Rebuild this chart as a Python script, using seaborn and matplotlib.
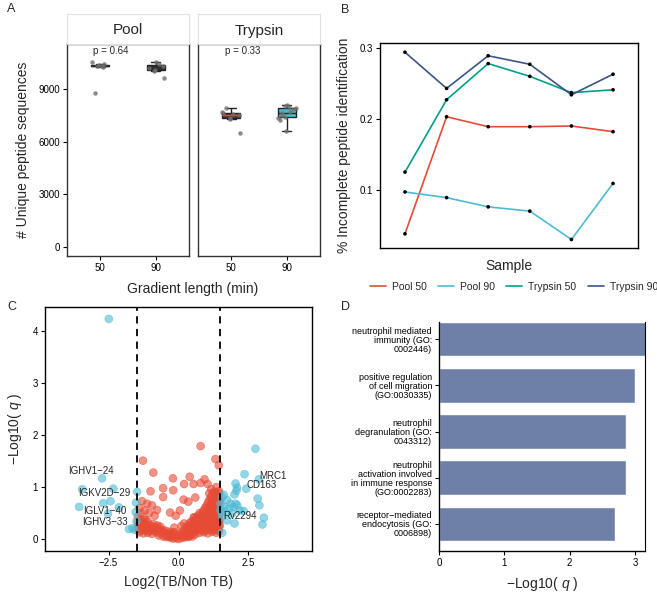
import numpy as np
import pandas as pd
import matplotlib
matplotlib.use("Agg")
import matplotlib.pyplot as plt
import seaborn as sns
from matplotlib.lines import Line2D

# -----------------------------
# DATA
# -----------------------------

# A: unique peptide sequences per run
gradients = ["50", "90"]
pool_50 = [10550, 10400, 10350, 10320, 10300, 10270, 8750]
pool_90 = [10550, 10430, 10300, 10200, 10100, 10050, 9620]
trypsin_50 = [7895, 7660, 7600, 7570, 7500, 7350, 7290, 6500]
trypsin_90 = [8080, 8030, 7950, 7915, 7880, 7700, 7600, 7500, 7400, 7330, 7230, 6620]
p_labels = ["p = 0.64", "p = 0.33"]

# B: % incomplete peptide identification
samples = [1, 2, 3, 4, 5, 6]
b_pool_50 = [0.038, 0.203, 0.189, 0.189, 0.190, 0.182]
b_pool_90 = [0.097, 0.089, 0.076, 0.070, 0.030, 0.109]
b_trypsin_50 = [0.125, 0.227, 0.278, 0.260, 0.237, 0.241]
b_trypsin_90 = [0.294, 0.243, 0.289, 0.277, 0.234, 0.263]
b_groups = ["Pool 50", "Pool 90", "Trypsin 50", "Trypsin 90"]

# C: volcano plot (log2 fold change, -log10 q)
red_pts = [
    (0.79, 1.79), (-1.27, 1.51), (1.32, 1.54), (1.44, 1.42), (-0.90, 1.28),
    (-0.20, 1.17), (0.40, 1.20), (0.93, 1.15), (0.20, 1.06), (0.54, 1.06),
    (0.79, 1.08), (1.04, 1.06), (1.17, 0.96), (-1.00, 0.92), (-0.55, 0.98),
    (-0.55, 0.81), (-0.19, 0.94), (0.18, 0.76), (-1.30, 0.73), (-1.12, 0.68),
    (-0.95, 0.65), (-0.77, 0.56), (-0.30, 0.51), (-1.18, 0.37), (-1.40, 0.60),
    (-1.35, 0.50), (-1.20, 0.55), (-1.05, 0.50), (-0.85, 0.45), (1.10, 0.88),
    (1.25, 0.90), (1.35, 1.00), (1.45, 0.92), (0.60, 0.80), (0.35, 0.72),
    (0.05, 0.55), (-0.10, 0.45),
    # dense cluster
    (-0.30, 0.03), (-0.20, 0.01), (-0.10, 0.02), (0.00, 0.00), (0.10, 0.02),
    (0.20, 0.03), (0.30, 0.05), (-0.45, 0.04), (-0.35, 0.05), (0.35, 0.04),
    (0.40, 0.06), (0.50, 0.05),
    (-0.70, 0.07), (-0.55, 0.05), (-0.40, 0.06), (-0.25, 0.08), (-0.10, 0.05),
    (0.05, 0.07), (0.15, 0.06), (0.30, 0.10), (0.45, 0.08), (0.60, 0.09),
    (-1.40, 0.13), (-1.25, 0.11), (-1.10, 0.12), (-0.95, 0.10), (-0.80, 0.13),
    (-0.65, 0.11), (-0.50, 0.12), (-0.35, 0.10), (0.30, 0.14), (0.45, 0.12),
    (0.60, 0.15), (0.75, 0.12), (0.90, 0.13), (1.05, 0.11), (1.20, 0.14),
    (1.35, 0.12), (1.45, 0.15),
    (-1.35, 0.16), (-1.20, 0.17), (-1.05, 0.15), (-0.90, 0.16), (-0.75, 0.17),
    (-0.60, 0.15), (-0.45, 0.16), (-0.30, 0.14), (-0.15, 0.13), (0.20, 0.16),
    (0.35, 0.17), (0.50, 0.16), (0.65, 0.18), (0.80, 0.17), (0.95, 0.16),
    (1.10, 0.18), (1.25, 0.17), (1.40, 0.18),
    (-1.45, 0.20), (-1.30, 0.22), (-1.15, 0.19), (-1.00, 0.21), (-0.85, 0.18),
    (-0.70, 0.20), (-0.55, 0.17), (0.40, 0.20), (0.55, 0.22), (0.70, 0.19),
    (0.85, 0.21), (1.00, 0.20), (1.15, 0.23), (1.30, 0.20), (1.45, 0.22),
    (-1.45, 0.25), (-1.30, 0.26), (-1.15, 0.24), (-0.95, 0.25), (-0.80, 0.23),
    (-0.65, 0.24), (0.30, 0.24), (0.45, 0.25), (0.60, 0.24), (0.75, 0.26),
    (0.90, 0.25), (1.05, 0.24), (1.20, 0.26), (1.35, 0.25), (1.48, 0.27),
    (-1.40, 0.28), (-1.20, 0.30), (-1.05, 0.27), (-0.90, 0.29), (-0.75, 0.26),
    (0.50, 0.28), (0.65, 0.30), (0.80, 0.27), (0.95, 0.29), (1.10, 0.30),
    (1.25, 0.28), (1.40, 0.31),
    (-1.45, 0.33), (-1.30, 0.32), (-1.10, 0.34), (0.40, 0.31), (0.55, 0.33),
    (0.70, 0.32), (0.85, 0.33), (1.00, 0.32), (1.15, 0.34), (1.30, 0.33),
    (1.45, 0.34),
    (-1.35, 0.36), (-1.25, 0.38), (0.60, 0.36), (0.75, 0.37), (0.90, 0.35),
    (1.05, 0.38), (1.20, 0.36), (1.35, 0.39), (1.45, 0.37),
    (0.55, 0.41), (0.65, 0.40), (0.80, 0.42), (0.95, 0.41), (1.10, 0.42),
    (1.25, 0.41), (1.40, 0.43),
    (-1.45, 0.44), (0.70, 0.45), (0.85, 0.46), (1.00, 0.44), (1.15, 0.47),
    (1.30, 0.45), (1.45, 0.46),
    (0.75, 0.50), (0.85, 0.51), (1.00, 0.50), (1.10, 0.52), (1.25, 0.50),
    (1.40, 0.51),
    (0.90, 0.55), (1.05, 0.54), (1.20, 0.56), (1.35, 0.55), (1.45, 0.57),
    (0.95, 0.60), (1.10, 0.61), (1.25, 0.60), (1.40, 0.62),
    (1.00, 0.64), (1.15, 0.66), (1.30, 0.65), (1.42, 0.67),
    (1.05, 0.70), (1.20, 0.71), (1.35, 0.70), (1.48, 0.72),
    (1.10, 0.75), (1.25, 0.74), (1.40, 0.76),
    (1.15, 0.80), (1.30, 0.81), (1.45, 0.80),
    (1.20, 0.84), (1.35, 0.86), (1.30, 0.91), (1.45, 0.88),
    (0.15, 0.15), (0.25, 0.20), (0.35, 0.25), (0.00, 0.10), (-0.20, 0.12),
    (0.10, 0.25), (0.20, 0.30), (-0.15, 0.22), (0.45, 0.33), (0.55, 0.42),
]
cyan_pts = [
    (-2.49, 4.24), (-2.73, 1.17), (-3.44, 0.96), (-2.33, 0.97), (-2.43, 0.73),
    (-2.69, 0.69), (-3.55, 0.62), (-2.13, 0.61), (-2.52, 0.49), (-1.52, 0.70),
    (-1.48, 0.91), (-1.65, 0.21), (-1.58, 0.18), (-1.77, 0.19), (-1.50, 0.35),
    (-1.53, 0.52),
    (2.75, 1.74), (2.36, 1.25), (2.87, 1.15), (2.42, 0.97), (2.04, 1.07),
    (2.09, 0.99), (2.07, 0.93), (2.00, 0.86), (2.83, 0.78), (2.89, 0.65),
    (3.05, 0.41), (3.00, 0.28), (2.10, 0.65), (2.20, 0.55), (2.33, 0.54),
    (2.00, 0.30), (1.56, 0.12),
    (1.56, 0.81), (1.74, 0.75), (1.86, 0.68), (1.62, 0.62), (1.50, 0.56),
    (1.68, 0.53), (1.80, 0.59), (1.98, 0.62), (1.56, 0.43), (1.74, 0.36),
    (1.50, 0.68), (1.92, 0.50), (1.62, 0.85), (2.04, 0.68), (1.55, 0.50),
]
gene_labels = ["IGHV1\u221224", "IGKV2D\u221229", "IGLV1\u221240", "IGHV3\u221233",
               "MRC1", "CD163", "Rv2294"]
gene_x = [-2.31, -1.71, -1.86, -1.80, 2.90, 2.43, 1.60]
gene_y = [1.31, 0.88, 0.54, 0.32, 1.22, 1.04, 0.44]

# D: GO enrichment
go_terms = [
    "neutrophil mediated\nimmunity (GO:\n0002446)",
    "positive regulation\nof cell migration\n(GO:0030335)",
    "neutrophil\ndegranulation (GO:\n0043312)",
    "neutrophil\nactivation involved\nin immune response\n(GO:0002283)",
    "receptor\u2212mediated\nendocytosis (GO:\n0006898)",
]
go_values = [3.25, 3.00, 2.86, 2.86, 2.70]

# -----------------------------
# STYLE
# -----------------------------

sns.set_theme(style="ticks")
plt.rcParams["font.family"] = ["Liberation Sans", "DejaVu Sans"]
plt.rcParams["mathtext.fontset"] = "custom"
plt.rcParams["mathtext.it"] = "Liberation Sans:italic"
plt.rcParams["mathtext.rm"] = "Liberation Sans"

RED = "#E64B35"
CYAN = "#4DBBD5"
GREEN = "#00A087"
NAVY = "#3C5488"
TICK = 7
LAB = 10

fig = plt.figure(figsize=(6.57, 5.94), dpi=100)


def style_axes(ax, spines=("left", "right", "top", "bottom"), color="black", lw=1.0):
    for s in ["left", "right", "top", "bottom"]:
        ax.spines[s].set_visible(s in spines)
        ax.spines[s].set_color(color)
        ax.spines[s].set_linewidth(lw)
    ax.tick_params(direction="out", length=3, width=0.8, labelsize=TICK,
                   colors="black", pad=2)
    ax.set_facecolor("white")


# -----------------------------
# PANEL A
# -----------------------------

df_a = pd.DataFrame({
    "facet": ["Pool"] * (len(pool_50) + len(pool_90))
             + ["Trypsin"] * (len(trypsin_50) + len(trypsin_90)),
    "gradient": ["50"] * len(pool_50) + ["90"] * len(pool_90)
                + ["50"] * len(trypsin_50) + ["90"] * len(trypsin_90),
    "peptides": pool_50 + pool_90 + trypsin_50 + trypsin_90,
})

box_fill = {("Pool", "50"): "#2E2E2E", ("Pool", "90"): "#2E2E2E",
            ("Trypsin", "50"): "#3A3A3A", ("Trypsin", "90"): CYAN}
median_col = {("Pool", "50"): "#2E2E2E", ("Pool", "90"): "#2E2E2E",
              ("Trypsin", "50"): RED, ("Trypsin", "90"): "#222222"}

facets = ["Pool", "Trypsin"]
a_left = [67, 198]
for i, facet in enumerate(facets):
    ax = fig.add_axes([a_left[i] / 657, 1 - 256 / 594, 122 / 657, 212 / 594])
    for g in gradients:
        sub = df_a[(df_a.facet == facet) & (df_a.gradient == g)]
        sns.boxplot(data=sub, x="gradient", y="peptides", order=gradients,
                    color=box_fill[(facet, g)], linecolor="#222222",
                    linewidth=1.0, width=0.33, showfliers=False,
                    whis=3 if (facet, g) == ("Trypsin", "90") else 1.5,
                    medianprops=dict(color=median_col[(facet, g)], linewidth=1.0),
                    saturation=1, ax=ax)
    sub = df_a[df_a.facet == facet]
    sns.stripplot(data=sub, x="gradient", y="peptides", order=gradients,
                  color="#6E6E6E", alpha=0.8, size=3.2, jitter=0.17, ax=ax)
    ax.set_xlim(-0.6, 1.6)
    ax.set_ylim(-520, 11560)
    ax.set_yticks([0, 3000, 6000, 9000])
    ax.set_xlabel("")
    style_axes(ax, color="#333333")
    ax.text(-0.13 if i == 0 else -0.11, 11170, p_labels[i], fontsize=7,
            ha="left", va="center")
    if i == 0:
        ax.set_ylabel("# Unique peptide sequences", fontsize=LAB, labelpad=6)
    else:
        ax.set_ylabel("")
        ax.set_yticklabels([])
        ax.tick_params(axis="y", length=0)
    # facet strip
    sax = fig.add_axes([a_left[i] / 657, 1 - 44 / 594, 122 / 657, 30 / 594])
    sax.set_xticks([])
    sax.set_yticks([])
    for s in sax.spines.values():
        s.set_color("#E0E0E0")
        s.set_linewidth(0.8)
    sax.text(0.5, 0.45, facet, fontsize=11, ha="center", va="center",
             transform=sax.transAxes)

fig.text(193 / 657, 1 - 289 / 594, "Gradient length (min)", fontsize=LAB,
         ha="center", va="center")

# -----------------------------
# PANEL B
# -----------------------------

df_b = pd.DataFrame({
    "sample": samples * 4,
    "value": b_pool_50 + b_pool_90 + b_trypsin_50 + b_trypsin_90,
    "group": [g for g in b_groups for _ in samples],
})
b_palette = dict(zip(b_groups, [RED, CYAN, GREEN, NAVY]))

axb = fig.add_axes([380 / 657, 1 - 248 / 594, 258 / 657, 205 / 594])
sns.lineplot(data=df_b, x="sample", y="value", hue="group", palette=b_palette,
             linewidth=1.2, legend=False, ax=axb)
sns.scatterplot(data=df_b, x="sample", y="value", color="black", s=7,
                edgecolor="none", legend=False, ax=axb, zorder=3)
axb.set_xlim(0.4, 6.6)
axb.set_ylim(0.018, 0.307)
axb.set_yticks([0.1, 0.2, 0.3])
axb.set_xticks([])
style_axes(axb)
axb.set_xlabel("Sample", fontsize=LAB, labelpad=8)
axb.set_ylabel("% Incomplete peptide identification", fontsize=LAB, labelpad=6)

handles = [Line2D([0], [0], color=b_palette[g], lw=1.2) for g in b_groups]
fig.legend(handles, b_groups, loc="center", bbox_to_anchor=(514 / 657, 1 - 287 / 594),
           ncol=4, frameon=False, fontsize=7.5, handlelength=1.5,
           columnspacing=1.1, handletextpad=0.6, borderaxespad=0, borderpad=0)

# -----------------------------
# PANEL C
# -----------------------------

df_c = pd.DataFrame({
    "log2fc": [p[0] for p in red_pts] + [p[0] for p in cyan_pts],
    "q": [p[1] for p in red_pts] + [p[1] for p in cyan_pts],
    "sig": ["no"] * len(red_pts) + ["yes"] * len(cyan_pts),
})
c_palette = {"no": RED, "yes": CYAN}

axc = fig.add_axes([45 / 657, 1 - 551 / 594, 267 / 657, 244 / 594])
sns.scatterplot(data=df_c, x="log2fc", y="q", hue="sig", palette=c_palette,
                s=32, alpha=0.6, edgecolor=[c_palette[s] for s in df_c.sig],
                linewidth=0.5, legend=False, ax=axc)
for xv in [-1.5, 1.5]:
    axc.axvline(xv, color="black", lw=1.3, ls=(0, (4, 3)))
for lab, gx, gy in zip(gene_labels, gene_x, gene_y):
    ha = "right" if gx < 0 else "left"
    axc.text(gx, gy, lab, fontsize=7, ha=ha, va="center")
axc.set_xlim(-4.77, 4.77)
axc.set_ylim(-0.23, 4.47)
axc.set_xticks([-2.5, 0, 2.5])
axc.set_xticklabels(["\u22122.5", "0.0", "2.5"])
axc.set_yticks([0, 1, 2, 3, 4])
style_axes(axc)
axc.set_xlabel("Log2(TB/Non TB)", fontsize=LAB, labelpad=5)
axc.set_ylabel("\u2212Log10( $q$ )", fontsize=LAB, labelpad=6)

# -----------------------------
# PANEL D
# -----------------------------

df_d = pd.DataFrame({"term": go_terms, "value": go_values})
axd = fig.add_axes([439 / 657, 1 - 551 / 594, 206 / 657, 229 / 594])
sns.barplot(data=df_d, x="value", y="term", orient="h", color="#6E7FA8",
            saturation=1, width=0.745, ax=axd)
axd.set_xlim(0, 3.155)
axd.set_ylim(4.59, -0.375)
axd.set_xticks([0, 1, 2, 3])
style_axes(axd, spines=("left", "bottom", "right"))
axd.spines["right"].set_linewidth(0.8)
axd.tick_params(axis="y", labelsize=6.5)
for t in axd.get_yticklabels():
    t.set_linespacing(1.0)
    t.set_horizontalalignment("right")
axd.set_ylabel("")
axd.set_xlabel("\u2212Log10( $q$ )", fontsize=LAB, labelpad=5)

# -----------------------------
# PANEL LETTERS
# -----------------------------

for letter, x, y in [("A", 7, 9), ("B", 341, 10), ("C", 7, 307), ("D", 341, 307)]:
    fig.text(x / 657, 1 - y / 594, letter, fontsize=9, ha="left", va="center")

plt.savefig("out.png", dpi=100)
plt.close()
